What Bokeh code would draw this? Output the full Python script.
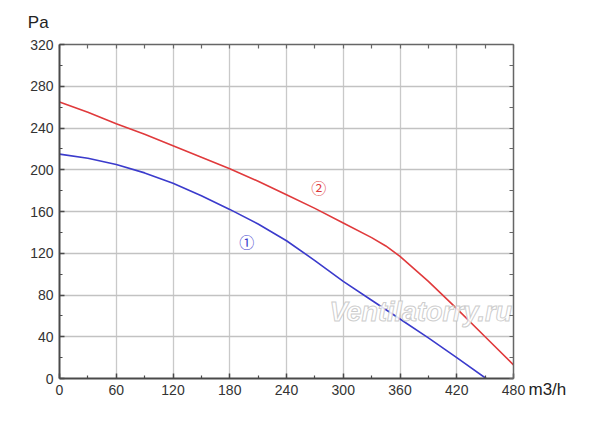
from bokeh.plotting import figure
from bokeh.models import LinearAxis, FixedTicker, Range1d, ColumnDataSource, Grid
from bokeh.core.properties import value
from bokeh.embed import file_html
from bokeh.resources import INLINE

# ---- data ----
x_ticks = [0, 60, 120, 180, 240, 300, 360, 420, 480]
y_ticks = [0, 40, 80, 120, 160, 200, 240, 280, 320]

curve1_flow = [0, 30, 60, 90, 120, 150, 180, 210, 240, 270, 300, 330, 360, 390, 420, 451]
curve1_pressure = [215, 211, 205, 197, 187, 175, 162, 148, 132, 113, 93, 75, 57, 39, 20, 0]

curve2_flow = [0, 30, 60, 90, 120, 150, 180, 210, 240, 270, 300, 330, 345, 360, 390, 420, 450, 480]
curve2_pressure = [265, 255, 244, 234, 223, 212, 201, 189, 176, 163, 149, 135, 127, 117, 93, 67, 40, 13]

curve_labels = ["\u2460", "\u2461"]
label_pos_x = [198, 274]
label_pos_y = [131, 183]

x_unit = "m3/h"
y_unit = "Pa"
watermark = "Ventilatorry.ru"
watermark_x = [382]
watermark_y = [64]

RED = "#e03a3c"
BLUE = "#3b3bcc"
FONT = "Liberation Sans"
NBSP = "\u00a0"

p = figure(frame_width=454, frame_height=334,
           x_range=Range1d(0, 480), y_range=Range1d(0, 320),
           output_backend="svg", toolbar_location=None,
           min_border_left=59, min_border_right=70,
           min_border_top=44, min_border_bottom=36,
           x_axis_type=None, y_axis_type=None)
p.outline_line_color = None
p.background_fill_color = "white"
p.border_fill_color = "white"

xt = FixedTicker(ticks=x_ticks, minor_ticks=[v + 30 for v in x_ticks[:-1]])
yt = FixedTicker(ticks=y_ticks, minor_ticks=[v + 20 for v in y_ticks[:-1]])
# frame ticks for top/right: all positions as minor ticks, one labelled major
xt_top = FixedTicker(ticks=[0], minor_ticks=sorted(x_ticks + [v + 30 for v in x_ticks[:-1]]))
yt_right = FixedTicker(ticks=[0], minor_ticks=sorted(y_ticks + [v + 20 for v in y_ticks[:-1]]))

def style_axis(ax, color, width):
    ax.axis_line_color = color
    ax.axis_line_width = width
    ax.major_tick_line_color = color
    ax.minor_tick_line_color = color
    ax.major_tick_line_width = 1.5
    ax.minor_tick_line_width = 1.2
    ax.major_tick_in = 5
    ax.major_tick_out = 0
    ax.minor_tick_in = 3
    ax.minor_tick_out = 0
    ax.major_label_text_font = FONT
    ax.major_label_text_font_size = "14px"
    ax.major_label_text_color = "#333333"

bx = LinearAxis(ticker=xt)
style_axis(bx, "#4a4a4a", 2)
bx.major_label_standoff = 6
p.add_layout(bx, "below")

ly = LinearAxis(ticker=yt)
style_axis(ly, "#4a4a4a", 2)
ly.major_label_standoff = 6
p.add_layout(ly, "left")

tx = LinearAxis(ticker=xt_top)
style_axis(tx, "#666666", 1.5)
tx.minor_tick_in = 4
tx.major_tick_in = 0
tx.major_label_overrides = {0: y_unit + NBSP * 9}
tx.major_label_text_font_size = "17px"
tx.major_label_text_color = "#222222"
tx.major_label_standoff = 13
p.add_layout(tx, "above")

ry = LinearAxis(ticker=yt_right)
style_axis(ry, "#666666", 1.5)
ry.minor_tick_in = 4
ry.major_tick_in = 0
ry.major_label_overrides = {0: NBSP + "\n" + x_unit}
ry.major_label_text_font_size = "17px"
ry.major_label_text_color = "#222222"
ry.major_label_standoff = 15
p.add_layout(ry, "right")

p.add_layout(Grid(dimension=0, ticker=xt, grid_line_color="#c9c9c9", grid_line_width=1.3))
p.add_layout(Grid(dimension=1, ticker=yt, grid_line_color="#c2c2c2", grid_line_width=1.6))

# curves
src1 = ColumnDataSource(dict(x=curve1_flow, y=curve1_pressure))
src2 = ColumnDataSource(dict(x=curve2_flow, y=curve2_pressure))
p.line("x", "y", source=src2, line_color=RED, line_width=1.6)
p.line("x", "y", source=src1, line_color=BLUE, line_width=1.6)

# watermark
wm = p.text(x=watermark_x, y=watermark_y, text=[watermark], text_font=value(FONT),
            text_font_style="bold italic", text_font_size="27px",
            text_align="center", text_baseline="middle",
            text_color="#e4e4e4", text_alpha=0.85)
if hasattr(wm.glyph, "text_outline_color"):
    wm.glyph.text_color = "#ffffff"
    wm.glyph.text_outline_color = "#c4c4c4"

p.text(x=label_pos_x, y=label_pos_y, text=curve_labels,
       text_color=[BLUE, RED], text_font=value("Noto Sans CJK JP"),
       text_font_size="15px", text_align="center", text_baseline="middle")

open("out.html", "w").write(file_html(p, INLINE))
